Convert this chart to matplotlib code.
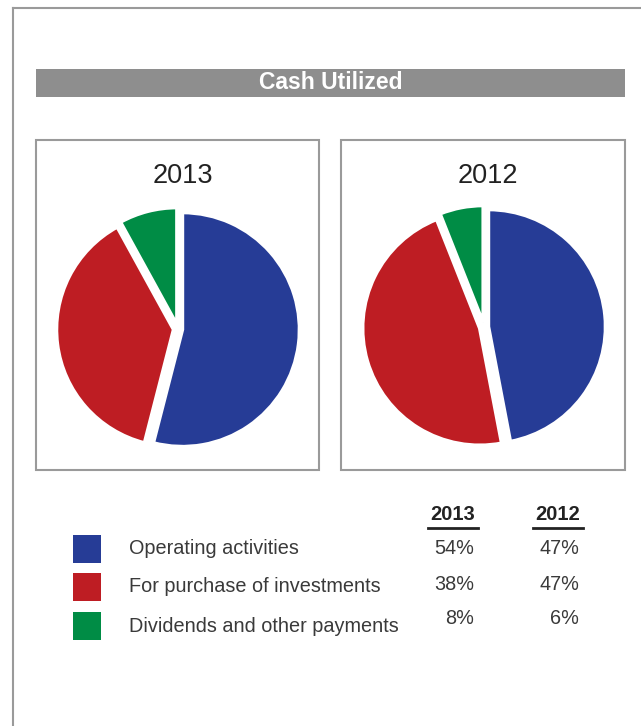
import matplotlib
matplotlib.use('Agg')
import matplotlib.pyplot as plt
from matplotlib.patches import Rectangle

plt.rcParams['font.family'] = ['Liberation Sans', 'DejaVu Sans']

# data
years = ['2013', '2012']
categories = ['Operating activities', 'For purchase of investments', 'Dividends and other payments']
share_2013 = [54, 38, 8]
share_2012 = [47, 47, 6]
colors = ['#263c96', '#be1d23', '#008c45']

W, H = 641, 726
fig = plt.figure(figsize=(W / 100, H / 100), dpi=100)
ax = fig.add_axes([0, 0, 1, 1])


def Y(py):
    # pixel row from top -> data y
    return H - py


grey = '#9a9a9a'

# outer frame (left and top edges only visible)
ax.plot([13, 13], [Y(760), Y(8)], color=grey, lw=1.5)
ax.plot([13, 700], [Y(8), Y(8)], color=grey, lw=1.5)

# title bar
ax.add_patch(Rectangle((36, Y(97)), 589, 28, facecolor='#8e8e8e', edgecolor='none'))
ax.text(331, Y(82.5), 'Cash Utilized', color='white', fontsize=16.5, fontweight='bold',
        ha='center', va='center')

# pie boxes
boxes = [(36, 319), (341, 625)]
centers = [(178, 329), (484, 327)]
for (x0, x1), (cx, cy), year, vals in zip(boxes, centers, years, [share_2013, share_2012]):
    ax.add_patch(Rectangle((x0, Y(470)), x1 - x0, 330, facecolor='none',
                           edgecolor=grey, lw=1.5))
    ax.text((x0 + x1) / 2 + 5, Y(176), year, fontsize=19.5, color='#222222',
            ha='center', va='center')
    ax.pie(vals, colors=colors, startangle=90, counterclock=False,
           center=(cx, Y(cy)), radius=117, explode=[4.5, 4.5, 4.5],
           wedgeprops=dict(edgecolor='white', linewidth=2.5), frame=True)

ax.set_xlim(0, W)
ax.set_ylim(0, H)
ax.set_aspect('auto')
ax.axis('off')

# table headers
col_x = [453, 558]
for x, year in zip(col_x, years):
    ax.text(x, Y(515), year, fontsize=14.5, fontweight='bold', color='#222222',
            ha='center', va='center')
    ax.plot([x - 25, x + 25], [Y(528), Y(528)], color='#222222', lw=2)

# legend rows
row_y = [549, 587, 626]
val_y = [549, 584, 619]
for i, (cat, c) in enumerate(zip(categories, colors)):
    ax.add_patch(Rectangle((73, Y(row_y[i] + 14)), 28, 28, facecolor=c, edgecolor='none'))
    ax.text(129, Y(row_y[i]), cat, fontsize=14.3, color='#3a3a3a', ha='left', va='center')
    ax.text(474, Y(val_y[i]), f'{share_2013[i]}%', fontsize=14.3, color='#3a3a3a',
            ha='right', va='center')
    ax.text(579, Y(val_y[i]), f'{share_2012[i]}%', fontsize=14.3, color='#3a3a3a',
            ha='right', va='center')

fig.savefig('out.png', dpi=100)
